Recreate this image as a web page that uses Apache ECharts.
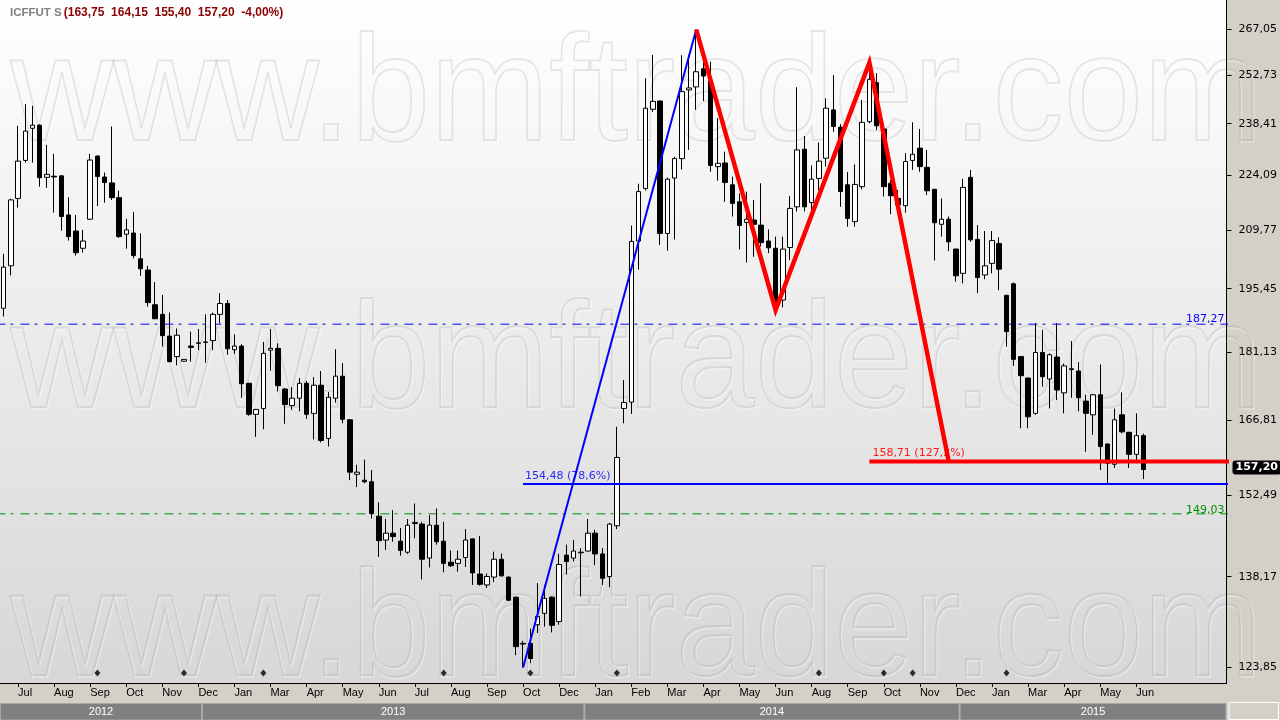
<!DOCTYPE html>
<html><head><meta charset="utf-8">
<script src="https://cdn.jsdelivr.net/npm/echarts@6/dist/echarts.min.js"></script>
<style>html,body{margin:0;padding:0;background:#d4d0c8}#c{width:1280px;height:720px}</style>
</head><body><div id="c"></div>
<script>
// ---- data (weekly bars, ICF coffee futures) ----
const opens = [190.9,200.9,217.9,228.1,237.1,238.0,223.5,223.8,223.9,213.6,
 209.5,205.2,212.5,229.3,223.6,222.0,218.1,208.7,209.0,202.6,
 199.9,191.7,189.5,184.6,180.1,179.1,182.4,183.0,183.2,183.6,
 189.5,192.0,181.6,182.4,174.4,168.0,169.2,181.5,181.9,173.2,
 169.8,171.3,174.4,168.2,174.0,163.2,171.3,175.9,166.9,156.3,
 155.2,154.9,148.6,144.4,145.6,144.2,142.3,147.3,147.2,141.3,
 147.0,144.2,140.6,140.4,141.4,144.6,138.6,136.8,138.1,141.1,
 138.1,134.8,127.5,127.5,130.4,132.2,134.8,130.9,141.8,141.3,
 142.2,142.5,145.6,142.0,138.2,146.9,169.2,170.5,207.0,220.5,
 242.6,245.0,208.9,223.3,228.6,248.3,249.2,254.7,251.0,226.4,
 227.4,221.5,217.0,211.7,212.3,211.0,207.0,205.2,192.8,205.4,
 215.7,231.2,216.8,223.2,228.7,242.4,237.4,221.5,211.9,221.0,
 239.0,250.5,236.9,221.9,217.9,216.0,228.1,231.5,226.2,220.3,
 211.2,212.5,205.0,199.1,223.5,207.4,198.7,201.5,206.4,193.9,
 196.6,180.1,175.5,168.2,181.0,175.3,180.0,172.4,177.3,177.0,
 170.7,167.9,172.0,162.1,158.2,167.9,164.4,160.1,163.75];
const closes = [200.6,217.5,227.9,236.3,238.0,223.4,224.3,223.6,213.2,208.1,
 204.1,207.0,228.2,223.7,222.1,218.1,208.1,209.8,203.4,200.2,
 192.2,188.5,184.7,179.0,184.8,179.5,182.1,183.1,183.3,189.5,
 192.0,181.8,182.4,174.3,168.0,169.0,180.8,181.9,173.9,170.0,
 171.3,174.4,168.0,174.0,162.8,171.5,175.9,167.0,156.7,156.7,
 154.9,149.1,144.3,145.6,145.0,142.6,147.0,147.5,141.1,147.0,
 144.1,140.4,140.0,141.1,144.4,138.8,136.9,138.2,141.1,138.3,
 134.3,127.0,127.4,125.2,131.7,134.6,130.3,140.2,140.7,142.5,
 142.3,145.6,142.0,137.9,147.2,159.5,170.4,206.9,219.7,242.9,
 244.9,208.9,223.0,228.6,247.8,248.9,253.8,252.5,226.7,227.3,
 222.1,216.6,210.9,212.5,211.2,206.6,205.3,192.0,205.0,215.3,
 231.0,215.7,223.0,227.9,242.9,237.6,219.7,212.7,221.6,238.8,
 251.5,237.8,221.0,218.6,216.2,227.8,229.8,226.4,219.9,211.6,
 212.5,206.8,198.5,220.8,207.3,198.1,200.9,207.1,200.1,185.6,
 179.5,176.0,167.5,181.0,175.8,180.5,173.0,178.1,177.5,171.4,
 168.2,172.0,161.6,158.4,166.9,164.5,160.1,163.75,157.20];
const lows = [189.0,198.6,215.5,227.5,227.5,221.0,220.7,214.2,209.6,207.1,
 203.4,204.1,212.3,215.9,216.8,217.5,207.8,205.1,202.7,198.5,
 191.3,188.4,182.3,178.9,178.2,179.0,179.0,181.5,178.8,181.5,
 187.5,180.5,180.7,171.4,167.7,163.5,165.0,177.1,172.7,166.1,
 168.9,168.6,167.1,163.0,162.4,161.6,170.4,166.2,155.2,153.9,
 154.6,148.2,141.5,142.7,144.1,141.7,142.0,144.7,137.7,139.7,
 143.6,138.9,139.8,139.0,139.8,136.8,136.7,136.3,137.3,138.2,
 134.2,125.7,123.85,124.5,129.1,130.1,129.2,130.4,138.5,140.7,
 134.9,142.4,140.1,136.8,136.4,146.3,166.2,168.1,200.0,220.0,
 241.8,206.0,204.6,207.4,225.6,231.0,242.4,245.0,225.0,222.6,
 217.0,213.2,204.9,201.7,203.1,205.6,204.0,190.5,191.1,202.3,
 214.5,214.5,213.2,220.1,226.4,236.1,215.7,210.6,210.6,220.3,
 238.5,236.6,218.4,213.8,214.0,214.2,225.5,225.0,218.8,202.2,
 208.1,204.5,197.1,196.7,206.8,194.4,197.7,199.1,195.1,182.3,
 178.1,165.2,165.2,167.9,173.7,169.2,170.9,168.2,171.4,168.6,
 160.6,163.9,157.1,154.5,157.5,164.2,157.5,158.4,155.40];
const highs = [203.8,217.8,237.8,244.1,243.6,238.2,232.4,229.9,224.0,218.2,
 213.6,209.8,229.9,229.5,224.8,237.6,219.9,212.6,214.4,208.9,
 200.9,197.0,194.0,189.9,186.3,179.6,185.6,186.2,189.5,189.9,
 194.4,192.8,185.0,182.8,174.5,169.1,183.3,186.2,183.0,173.4,
 173.6,175.5,174.9,175.7,177.0,172.6,181.7,178.7,167.0,158.1,
 159.1,157.1,151.1,148.1,149.7,146.5,148.1,150.9,147.6,148.8,
 150.0,147.6,142.6,142.6,146.3,144.7,145.1,138.7,142.4,142.1,
 138.2,134.9,127.9,129.8,137.1,136.8,134.9,142.0,143.6,144.4,
 143.0,148.1,146.2,143.0,147.4,165.5,175.1,210.9,221.8,251.8,
 259.0,245.2,223.4,229.1,258.9,259.0,267.05,258.0,256.9,240.0,
 230.5,223.7,219.2,219.7,217.5,221.9,209.9,208.1,208.1,218.5,
 249.1,234.9,226.7,233.1,245.8,252.8,238.3,224.9,227.0,245.3,
 256.6,253.4,238.5,222.8,220.1,230.1,238.8,236.9,231.0,220.4,
 217.9,213.2,205.1,223.1,225.5,211.0,209.5,209.5,207.9,194.0,
 196.9,180.2,175.6,187.5,186.0,180.8,187.5,178.6,183.5,178.9,
 172.0,172.1,178.4,162.2,169.2,172.5,164.5,168.2,164.15];

const slotCount = 170;              // weekly slots on the time axis (incl. empty space on the right)
const priceTicks = [123.85,138.17,152.49,166.81,181.13,195.45,209.77,224.09,238.41,252.73,267.05];
const monthTicks = ["Jul","Aug","Sep","Oct","Nov","Dec","Jan","Mar","Apr","May","Jun","Jul","Aug","Sep","Oct","Dec",
                    "Jan","Feb","Mar","Apr","May","Jun","Aug","Sep","Oct","Nov","Dec","Jan","Mar","Apr","May","Jun"];
const tickStart = 2, tickStep = 5;
const years = ["2012","2013","2014","2015"];
const yearStarts = [0, 28, 81, 133];
const markerBars = [13,25,36,61,73,85,113,122,126,139];
const markerLevel = 123.03;
const blueLeg = [[72,123.85],[96,267.05]];
const redLeg = [[96,267.05],[107,190.5],[120,256.6],[131,158.71]];
const dashLevels = [{v:187.27, color:'#0000ff'}, {v:149.03, color:'#009000'}];
const fiboBlue = {from:72, v:154.48, text:'154,48 (78,6%)'};
const fiboRed = {from:120, v:158.71, text:'158,71 (127,2%)'};
const yMin = 121.56, yMax = 276.71;

// ---- helpers ----
const L = Math.log;
const fmt = v => v.toFixed(2).replace('.', ',');
const last = closes.length - 1;
const chg = (closes[last] / closes[last-1] - 1) * 100;
const slots = Array.from({length: slotCount}, (_, i) => String(i));
const candleData = opens.map((o, i) => [L(o), L(closes[i]), L(lows[i]), L(highs[i])]);
const isTick = i => i >= tickStart && (i - tickStart) % tickStep === 0 && (i - tickStart) / tickStep < monthTicks.length;
const dashType = [9, 5, 3, 7];
const hidden = {color: 'rgba(0,0,0,0)', width: 0};

const chart = echarts.init(document.getElementById('c'), null, {renderer: 'canvas'});

// watermark (embossed outline text)
const wmRows = [24, 291, 559];
const wmEls = [];
wmRows.forEach((y, k) => {
  wmEls.push({id: 'wmh' + k, type: 'text', x: 12, y: y + 1.5, scaleX: 0.95, z: 1, silent: true,
    style: {text: 'www.bmftrader.com', font: '150px "Liberation Sans"', fill: 'rgba(0,0,0,0)',
      stroke: 'rgba(255,255,255,0.35)', lineWidth: 1.5}});
  wmEls.push({id: 'wm' + k, type: 'text', x: 10.5, y: y, scaleX: 0.95, z: 1, silent: true,
    style: {text: 'www.bmftrader.com', font: '150px "Liberation Sans"', fill: 'rgba(0,0,0,0)',
      stroke: 'rgba(150,150,150,0.22)', lineWidth: 1.8}});
});

const option = {
  backgroundColor: '#d4d0c8',
  animation: false,
  title: {
    text: '{a|ICFFUT S}{b|(' + fmt(opens[last]) + '  ' + fmt(highs[last]) + '  ' + fmt(lows[last]) + '  ' +
          fmt(closes[last]) + '  ' + chg.toFixed(2).replace('.', ',') + '%)}',
    left: 5, top: 2,
    textStyle: {rich: {
      a: {color: '#808080', fontWeight: 'bold', fontSize: 11.5, fontFamily: 'Liberation Sans'},
      b: {color: '#8b0000', fontWeight: 'bold', fontSize: 12, fontFamily: 'Liberation Sans', padding: [0, 0, 0, 2]}
    }}
  },
  grid: {left: 0, right: 52, top: 0, bottom: 37, show: true, borderWidth: 0,
    backgroundColor: new echarts.graphic.LinearGradient(0, 0, 0, 1, [{offset: 0, color: '#ffffff'}, {offset: 1, color: '#d7d7d7'}])},
  graphic: {elements: wmEls},
  xAxis: {
    type: 'category', data: slots, boundaryGap: true, z: 3,
    axisLine: {show: true, lineStyle: {color: '#000', width: 1}},
    axisTick: {show: true, alignWithLabel: true, interval: isTick, length: 4, lineStyle: {color: '#000'}},
    axisLabel: {interval: isTick, formatter: (v, i) => monthTicks[(i - tickStart) / tickStep] || '',
      align: 'left', margin: 4, color: '#000', fontFamily: 'Liberation Sans', fontSize: 11},
    splitLine: {show: false}
  },
  yAxis: {
    type: 'value', position: 'right', min: L(yMin), max: L(yMax), z: 3,
    axisLine: {show: true, lineStyle: {color: '#000', width: 1}},
    axisTick: {show: true, customValues: priceTicks.map(L), length: 5, lineStyle: {color: '#000'}},
    axisLabel: {customValues: priceTicks.map(L), formatter: v => fmt(Math.exp(v)), margin: 12,
      color: '#000', fontFamily: 'DejaVu Sans', fontSize: 11},
    splitLine: {show: false}
  },
  series: [
    {
      type: 'candlestick', data: candleData, barWidth: 5, z: 4,
      itemStyle: {color: '#ffffff', color0: '#000000', borderColor: '#000000', borderColor0: '#000000', borderWidth: 1},
      markLine: {
        symbol: 'none', silent: true, animation: false,
        data: [
          ...dashLevels.map(d => ({yAxis: L(d.v), lineStyle: hidden,
            label: {show: true, position: 'insideEndTop', formatter: fmt(d.v), color: d.color, fontFamily: 'DejaVu Sans', fontSize: 11, distance: 2}})),
          [{coord: [fiboBlue.from, L(fiboBlue.v)], lineStyle: hidden,
            label: {show: true, position: 'insideStartTop', formatter: fiboBlue.text, color: '#2a2aff', fontFamily: 'DejaVu Sans', fontSize: 11, distance: 2}},
           {coord: [fiboBlue.from + 20, L(fiboBlue.v)]}],
          [{coord: [fiboRed.from, L(fiboRed.v)], lineStyle: hidden,
            label: {show: true, position: 'insideStartTop', formatter: fiboRed.text, color: '#ff1a1a', fontFamily: 'DejaVu Sans', fontSize: 11, distance: 3}},
           {coord: [fiboRed.from + 20, L(fiboRed.v)]}],
          {yAxis: L(closes[last]), lineStyle: hidden,
            label: {show: true, position: 'end', formatter: fmt(closes[last]), color: '#fff', backgroundColor: '#000',
              fontWeight: 'bold', fontFamily: 'DejaVu Sans', fontSize: 11, padding: [2, 3, 1, 3], borderRadius: 3, distance: 6}}
        ]
      }
    },
    ...dashLevels.map(d => ({type: 'line', data: [[-1, L(d.v)], [slotCount + 1, L(d.v)]], symbol: 'none', clip: true, z: 3,
      lineStyle: {color: d.color, width: 1, type: dashType}, silent: true})),
    {type: 'line', data: [[fiboBlue.from, L(fiboBlue.v)], [slotCount + 1, L(fiboBlue.v)]], symbol: 'none', clip: true, z: 5,
      lineStyle: {color: '#0000ff', width: 2}, silent: true},
    {type: 'line', data: [[fiboRed.from, L(fiboRed.v)], [slotCount + 1, L(fiboRed.v)]], symbol: 'none', clip: true, z: 5,
      lineStyle: {color: '#ff0000', width: 4}, silent: true},
    {type: 'line', data: blueLeg.map(p => [p[0], L(p[1])]), symbol: 'none', z: 5,
      lineStyle: {color: '#0000ff', width: 2}, silent: true},
    {type: 'line', data: redLeg.map(p => [p[0], L(p[1])]), symbol: 'none', z: 6,
      lineStyle: {color: '#ff0000', width: 4.5, join: 'miter'}, silent: true},
    {type: 'scatter', data: markerBars.map(i => [i, L(markerLevel)]), symbol: 'diamond', symbolSize: [6, 7], z: 5,
      itemStyle: {color: '#000'}, silent: true}
  ]
};
chart.setOption(option);

// year band under the month labels, positioned through the category axis
const cx = i => chart.convertToPixel({xAxisIndex: 0}, i);
const band = cx(1) - cx(0);
const plotRight = cx(slotCount - 1) + band / 2;
const els = [];
years.forEach((y, k) => {
  const x0 = k === 0 ? 0 : cx(yearStarts[k]) - band / 2;
  const x1 = k === years.length - 1 ? plotRight : cx(yearStarts[k + 1]) - band / 2;
  els.push({id: 'yb' + k, type: 'rect', shape: {x: x0 + 0.5, y: 703.5, width: x1 - x0 - 1, height: 16.5}, z: 5,
    style: {fill: '#808080', stroke: '#a8a8a8', lineWidth: 1}});
  els.push({id: 'yt' + k, type: 'text', x: (x0 + x1) / 2, y: 712, z: 6,
    style: {text: y, fill: '#ffffff', font: '11px "Liberation Sans"', textAlign: 'center', textVerticalAlign: 'middle'}});
});
els.push({id: 'corner', type: 'rect', shape: {x: plotRight + 2.5, y: 702.5, width: 1280 - plotRight - 4, height: 17}, z: 5,
  style: {fill: '#d4d0c8', stroke: '#ffffff', lineWidth: 1}});
chart.setOption({graphic: {elements: els}});
</script>
</body></html>
